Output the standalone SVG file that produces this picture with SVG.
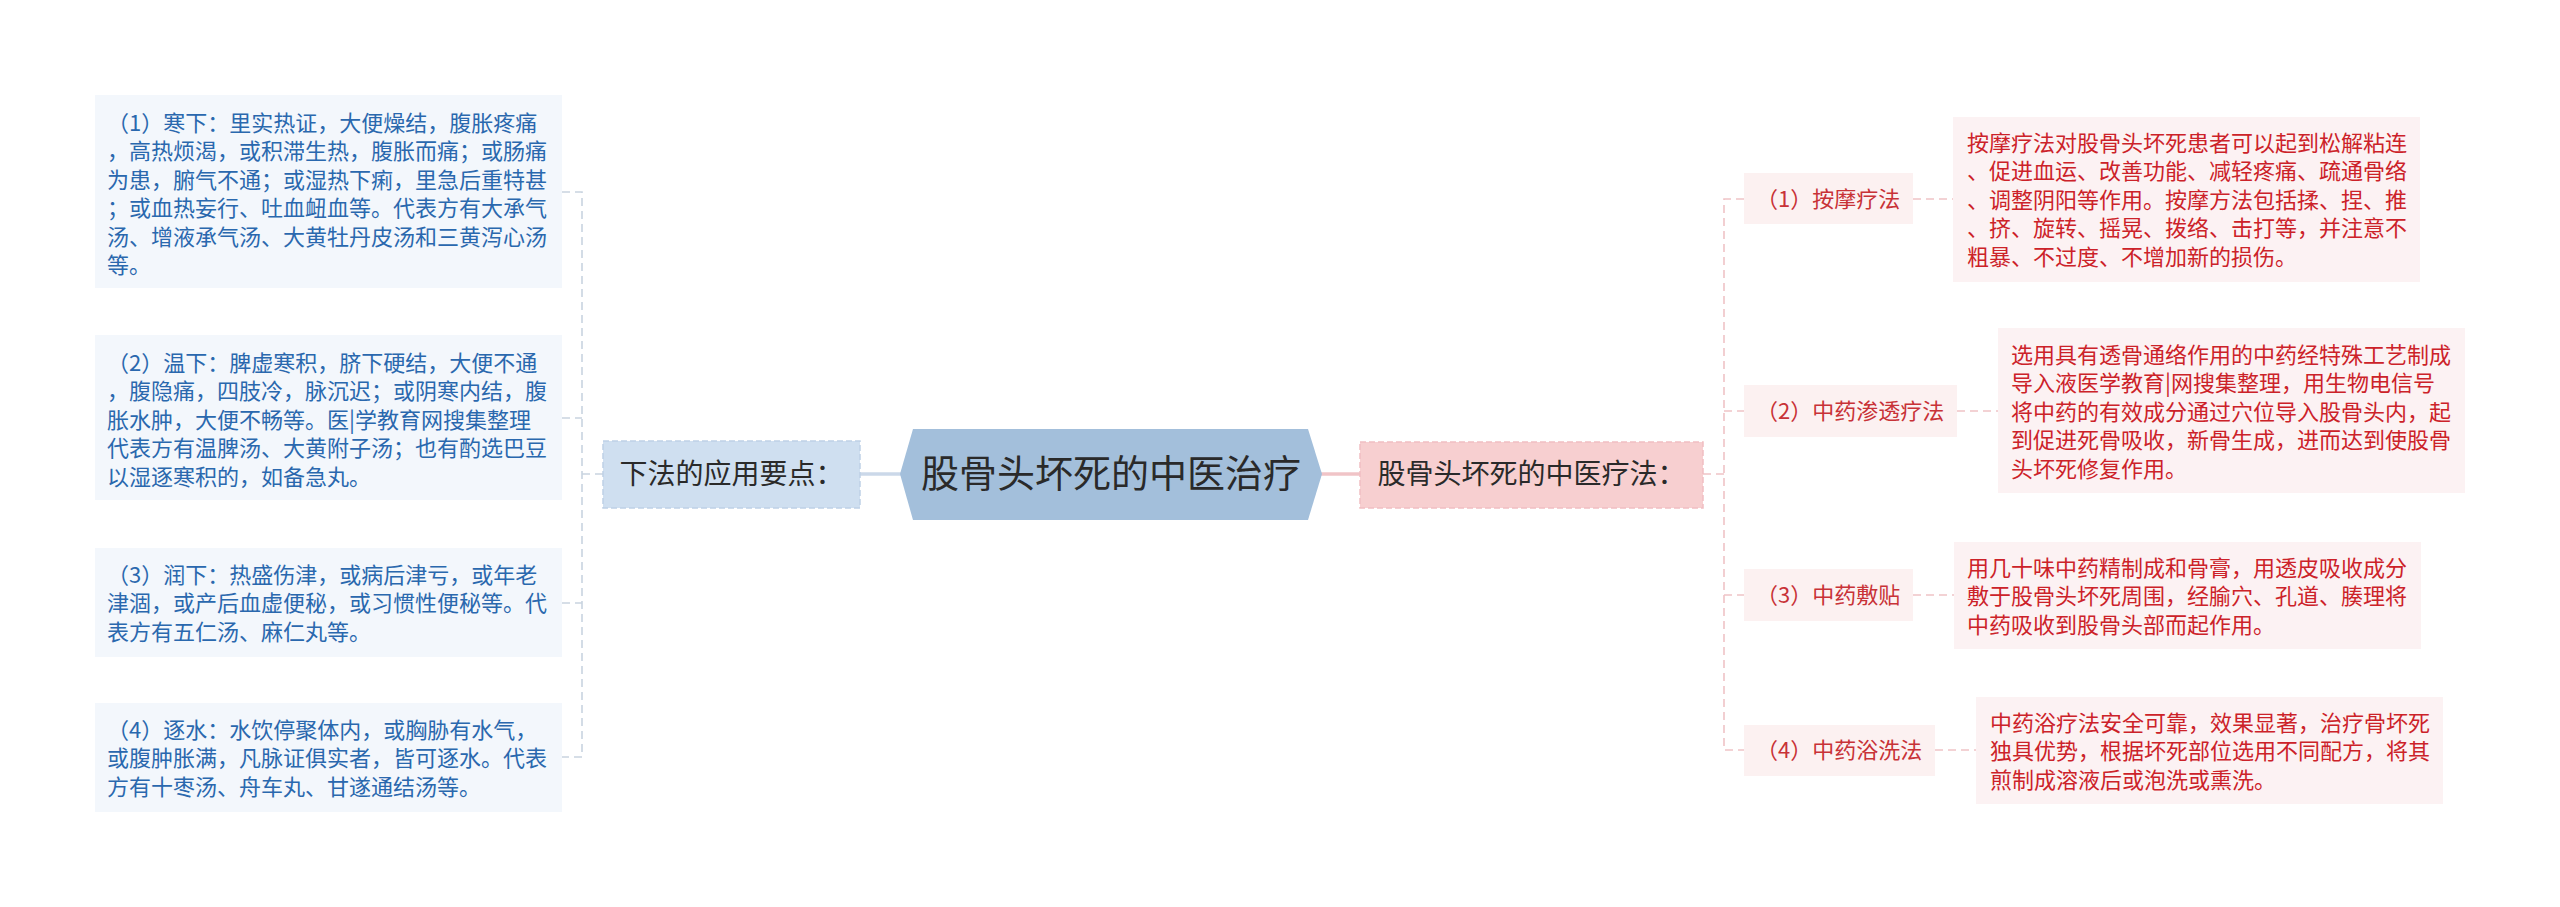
<svg xmlns="http://www.w3.org/2000/svg" width="2560" height="907" viewBox="0 0 2560 907">
<style>
text{font-family:"Microsoft YaHei","Noto Sans CJK SC","Noto Sans",sans-serif;}
.lbox{fill:#f3f7fc;}
.ltxt{fill:#2a68ae;font-size:22px;}
.rbox{fill:#fcf2f3;}
.rtxt{fill:#cc2229;font-size:22px;}
.lab{fill:#fcf1f1;}
.labt{fill:#c83237;font-size:22px;}
.cl{fill:none;stroke:#c9d4e0;stroke-width:1.6;stroke-dasharray:8 5;}
.cr{fill:none;stroke:#efc3c6;stroke-width:1.6;stroke-dasharray:8 5;}
</style>
<rect width="2560" height="907" fill="#ffffff"/>
<g id="connectors">
<path class="cl" d="M562,192 H582 V757 H562"/>
<path class="cl" d="M562,418 H582"/>
<path class="cl" d="M562,603 H582"/>
<path class="cl" d="M582,474 H603"/>
<path d="M860,474 H902" stroke="#cbd8e9" stroke-width="3.5" fill="none"/>
<path d="M1320,474 H1360" stroke="#f0c4c7" stroke-width="3.5" fill="none"/>
<path class="cr" d="M1703,474 H1724"/>
<path class="cr" d="M1744,199 H1724 V750 H1744"/>
<path class="cr" d="M1724,411 H1744"/>
<path class="cr" d="M1724,595 H1744"/>
<path class="cr" d="M1913,199 H1953"/>
<path class="cr" d="M1957,411 H1998"/>
<path class="cr" d="M1913,595 H1954"/>
<path class="cr" d="M1935,750 H1976"/>
</g>
<g id="root">
<polygon points="913,429 1308,429 1322,474 1308,520 913,520 900,474" fill="#a3bfdb"/>
<text x="1111" y="487" text-anchor="middle" font-size="38" fill="#2a2a2a">股骨头坏死的中医治疗</text>
</g>
<g id="left-main">
<rect x="603" y="441" width="257" height="67" fill="#cfdff0" stroke="#bfd1e6" stroke-width="1.5" stroke-dasharray="6 3"/>
<text x="731.5" y="484" text-anchor="middle" font-size="28" fill="#2a2a2a">下法的应用要点：</text>
</g>
<g id="right-main">
<rect x="1360" y="442" width="343" height="66" fill="#f7cfd0" stroke="#f1bfc2" stroke-width="1.5" stroke-dasharray="6 3"/>
<text x="1531.5" y="484" text-anchor="middle" font-size="28" fill="#2a2a2a">股骨头坏死的中医疗法：</text>
</g>
<g id="left-1">
<rect class="lbox" x="95" y="95" width="467" height="193"/>
<text class="ltxt"><tspan x="107" y="131">（1）寒下：里实热证，大便燥结，腹胀疼痛</tspan><tspan x="107" dy="28.4">，高热烦渴，或积滞生热，腹胀而痛；或肠痛</tspan><tspan x="107" dy="28.4">为患，腑气不通；或湿热下痢，里急后重特甚</tspan><tspan x="107" dy="28.4">；或血热妄行、吐血衄血等。代表方有大承气</tspan><tspan x="107" dy="28.4">汤、增液承气汤、大黄牡丹皮汤和三黄泻心汤</tspan><tspan x="107" dy="28.4">等。</tspan></text>
</g>
<g id="left-2">
<rect class="lbox" x="95" y="335" width="467" height="165"/>
<text class="ltxt"><tspan x="107" y="371">（2）温下：脾虚寒积，脐下硬结，大便不通</tspan><tspan x="107" dy="28.4">，腹隐痛，四肢冷，脉沉迟；或阴寒内结，腹</tspan><tspan x="107" dy="28.4">胀水肿，大便不畅等。医|学教育网搜集整理</tspan><tspan x="107" dy="28.4">代表方有温脾汤、大黄附子汤；也有酌选巴豆</tspan><tspan x="107" dy="28.4">以湿逐寒积的，如备急丸。</tspan></text>
</g>
<g id="left-3">
<rect class="lbox" x="95" y="548" width="467" height="109"/>
<text class="ltxt"><tspan x="107" y="583">（3）润下：热盛伤津，或病后津亏，或年老</tspan><tspan x="107" dy="28.4">津涸，或产后血虚便秘，或习惯性便秘等。代</tspan><tspan x="107" dy="28.4">表方有五仁汤、麻仁丸等。</tspan></text>
</g>
<g id="left-4">
<rect class="lbox" x="95" y="703" width="467" height="109"/>
<text class="ltxt"><tspan x="107" y="738">（4）逐水：水饮停聚体内，或胸胁有水气，</tspan><tspan x="107" dy="28.4">或腹肿胀满，凡脉证俱实者，皆可逐水。代表</tspan><tspan x="107" dy="28.4">方有十枣汤、舟车丸、甘遂通结汤等。</tspan></text>
</g>
<g id="label-1">
<rect class="lab" x="1744" y="173" width="169" height="51"/>
<text class="labt" x="1756" y="207">（1）按摩疗法</text>
</g>
<g id="label-2">
<rect class="lab" x="1744" y="385" width="213" height="52"/>
<text class="labt" x="1756" y="419">（2）中药渗透疗法</text>
</g>
<g id="label-3">
<rect class="lab" x="1744" y="569" width="169" height="52"/>
<text class="labt" x="1756" y="603">（3）中药敷贴</text>
</g>
<g id="label-4">
<rect class="lab" x="1744" y="725" width="191" height="51"/>
<text class="labt" x="1756" y="758">（4）中药浴洗法</text>
</g>
<g id="desc-1">
<rect class="rbox" x="1953" y="117" width="467" height="165"/>
<text class="rtxt"><tspan x="1967" y="151">按摩疗法对股骨头坏死患者可以起到松解粘连</tspan><tspan x="1967" dy="28.4">、促进血运、改善功能、减轻疼痛、疏通骨络</tspan><tspan x="1967" dy="28.4">、调整阴阳等作用。按摩方法包括揉、捏、推</tspan><tspan x="1967" dy="28.4">、挤、旋转、摇晃、拨络、击打等，并注意不</tspan><tspan x="1967" dy="28.4">粗暴、不过度、不增加新的损伤。</tspan></text>
</g>
<g id="desc-2">
<rect class="rbox" x="1998" y="328" width="467" height="165"/>
<text class="rtxt"><tspan x="2011" y="363">选用具有透骨通络作用的中药经特殊工艺制成</tspan><tspan x="2011" dy="28.4">导入液医学教育|网搜集整理，用生物电信号</tspan><tspan x="2011" dy="28.4">将中药的有效成分通过穴位导入股骨头内，起</tspan><tspan x="2011" dy="28.4">到促进死骨吸收，新骨生成，进而达到使股骨</tspan><tspan x="2011" dy="28.4">头坏死修复作用。</tspan></text>
</g>
<g id="desc-3">
<rect class="rbox" x="1954" y="542" width="467" height="107"/>
<text class="rtxt"><tspan x="1967" y="576">用几十味中药精制成和骨膏，用透皮吸收成分</tspan><tspan x="1967" dy="28.4">敷于股骨头坏死周围，经腧穴、孔道、腠理将</tspan><tspan x="1967" dy="28.4">中药吸收到股骨头部而起作用。</tspan></text>
</g>
<g id="desc-4">
<rect class="rbox" x="1976" y="697" width="467" height="107"/>
<text class="rtxt"><tspan x="1990" y="731">中药浴疗法安全可靠，效果显著，治疗骨坏死</tspan><tspan x="1990" dy="28.4">独具优势，根据坏死部位选用不同配方，将其</tspan><tspan x="1990" dy="28.4">煎制成溶液后或泡洗或熏洗。</tspan></text>
</g>
</svg>
